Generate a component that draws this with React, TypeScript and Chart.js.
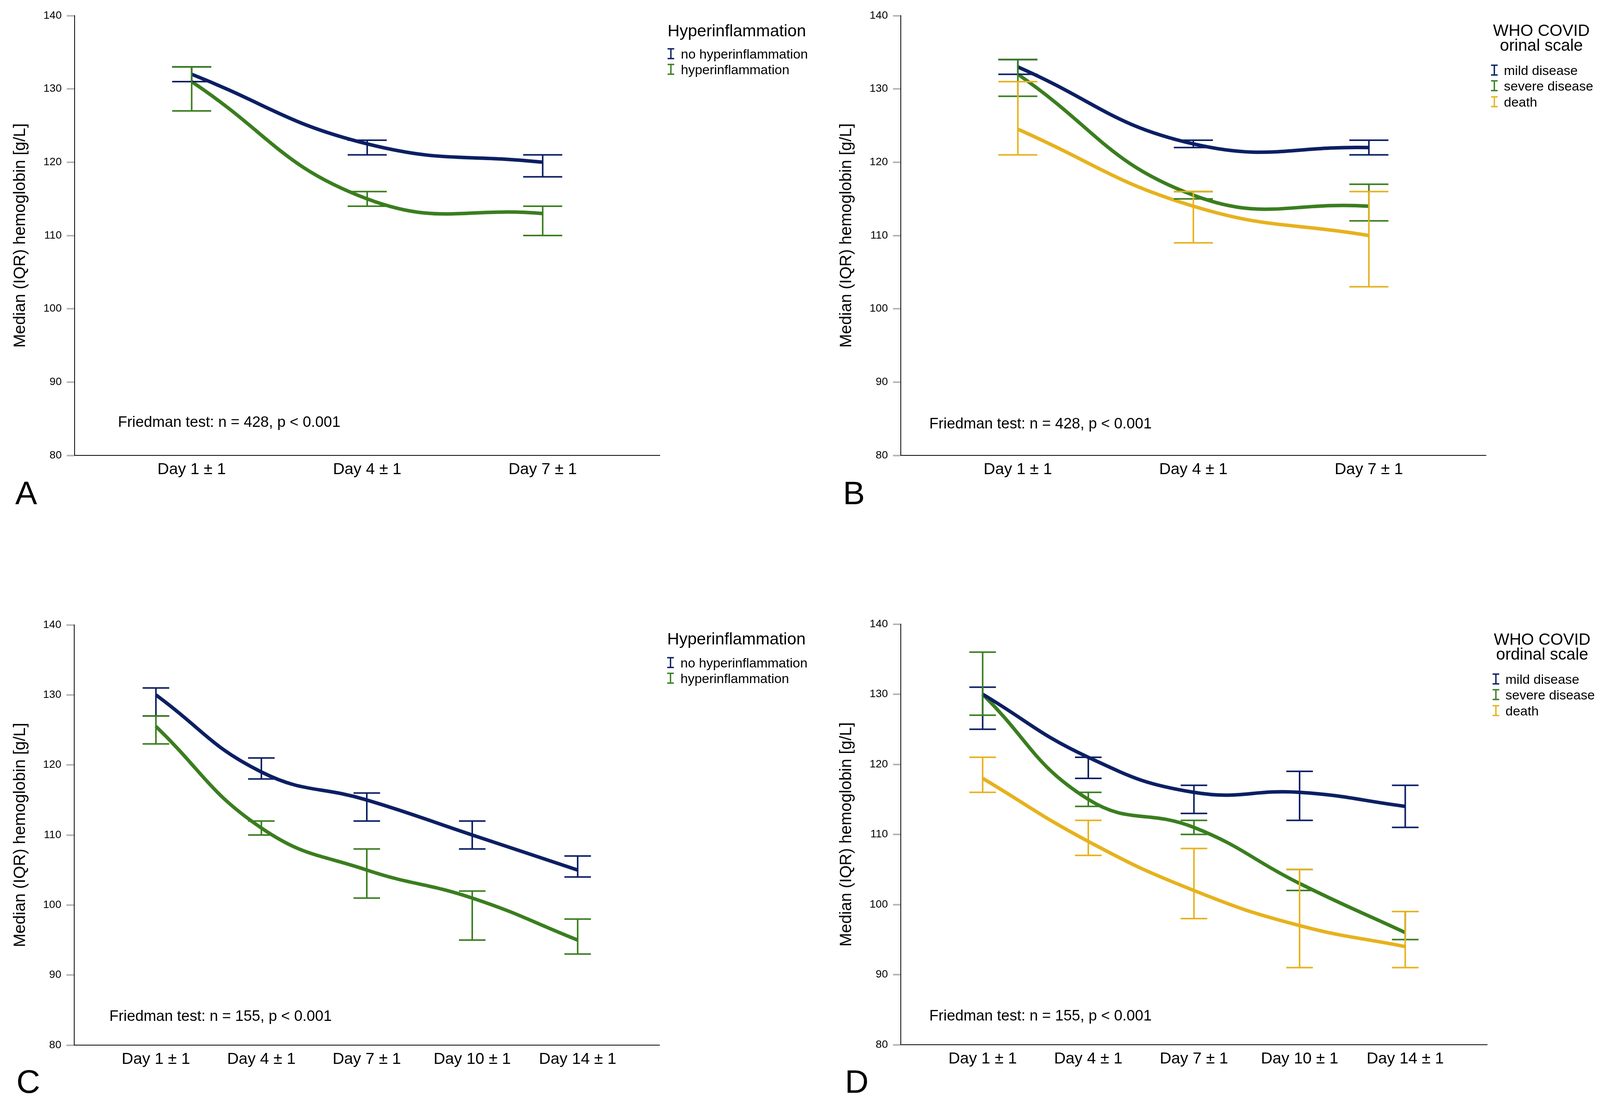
import React, { useEffect, useRef } from "react";
import { Chart, registerables } from "chart.js";

Chart.register(...registerables);

const FONT = "'Liberation Sans', Arial, Helvetica, sans-serif";

// ---------- categories / ticks ----------
const days3 = ["Day 1 ± 1", "Day 4 ± 1", "Day 7 ± 1"];
const days5 = ["Day 1 ± 1", "Day 4 ± 1", "Day 7 ± 1", "Day 10 ± 1", "Day 14 ± 1"];
const yTickValues = [80, 90, 100, 110, 120, 130, 140];

// ---------- text ----------
const yAxisTitle = "Median (IQR) hemoglobin [g/L]";
const hyperTitle = ["Hyperinflammation"];
const hyperNames = ["no hyperinflammation", "hyperinflammation"];
const whoTitleB = ["WHO COVID", "orinal scale"];
const whoTitleD = ["WHO COVID", "ordinal scale"];
const whoNames = ["mild disease", "severe disease", "death"];
const noteAB = "Friedman test: n = 428, p < 0.001";
const noteCD = "Friedman test: n = 155, p < 0.001";
const panelLetters = ["A", "B", "C", "D"];

// ---------- colours ----------
const NAVY = "#0b1f63";
const GREEN = "#3a7e1f";
const YELLOW = "#e6b21e";

// ---------- Panel A ----------
const aNoHyperMedian = [132, 122.5, 120];
const aNoHyperLow = [131, 121, 118];
const aNoHyperHigh = [133, 123, 121];
const aHyperMedian = [131, 115, 113];
const aHyperLow = [127, 114, 110];
const aHyperHigh = [133, 116, 114];

// ---------- Panel B ----------
const bMildMedian = [133, 122.5, 122];
const bMildLow = [132, 122, 121];
const bMildHigh = [134, 123, 123];
const bSevereMedian = [132, 115.5, 114];
const bSevereLow = [129, 115, 112];
const bSevereHigh = [134, 116, 117];
const bDeathMedian = [124.5, 114, 110];
const bDeathLow = [121, 109, 103];
const bDeathHigh = [131, 116, 116];

// ---------- Panel C ----------
const cNoHyperMedian = [130, 119, 115, 110, 105];
const cNoHyperLow = [127, 118, 112, 108, 104];
const cNoHyperHigh = [131, 121, 116, 112, 107];
const cHyperMedian = [125.5, 111, 105, 101, 95];
const cHyperLow = [123, 110, 101, 95, 93];
const cHyperHigh = [127, 112, 108, 102, 98];

// ---------- Panel D ----------
const dMildMedian = [130, 121, 116, 116, 114];
const dMildLow = [125, 118, 113, 112, 111];
const dMildHigh = [131, 121, 117, 119, 117];
const dSevereMedian = [130, 115, 111, 103, 96];
const dSevereLow = [127, 114, 110, 102, 95];
const dSevereHigh = [136, 116, 112, 105, 99];
const dDeathMedian = [118, 109, 102, 97, 94];
const dDeathLow = [116, 107, 98, 91, 91];
const dDeathHigh = [121, 112, 108, 105, 99];

type Series = { name: string; color: string; median: number[]; low: number[]; high: number[] };

type PanelSpec = {
  left: number;
  top: number;
  width: number;
  height: number;
  cats: string[];
  series: Series[];
  pad: { left: number; right: number; top: number };
  yWidth: number;
  xHeight: number;
  xOffset: number;
  capW: number;
  legendTitle: string[];
  titleAlign: "left" | "center";
  titleX: number;
  titleBaselines: number[];
  markerX: number;
  textX: number;
  itemBaselines: number[];
  note: string;
  noteX: number;
  noteY: number;
  letter: string;
  letterX: number;
  letterY: number;
};

const panels: PanelSpec[] = [
  {
    left: 0, top: 0, width: 2200, height: 1418,
    cats: days3,
    series: [
      { name: hyperNames[0], color: NAVY, median: aNoHyperMedian, low: aNoHyperLow, high: aNoHyperHigh },
      { name: hyperNames[1], color: GREEN, median: aHyperMedian, low: aHyperLow, high: aHyperHigh },
    ],
    pad: { left: 0, right: 511, top: 40 }, yWidth: 191, xHeight: 252, xOffset: 0.667, capW: 100,
    legendTitle: hyperTitle, titleAlign: "left", titleX: 1709, titleBaselines: [93],
    markerX: 1709, textX: 1743, itemBaselines: [150, 190],
    note: noteAB, noteX: 302, noteY: 1093,
    letter: panelLetters[0], letterX: 39, letterY: 1291,
  },
  {
    left: 2060, top: 0, width: 2060, height: 1418,
    cats: days3,
    series: [
      { name: whoNames[0], color: NAVY, median: bMildMedian, low: bMildLow, high: bMildHigh },
      { name: whoNames[1], color: GREEN, median: bSevereMedian, low: bSevereLow, high: bSevereHigh },
      { name: whoNames[2], color: YELLOW, median: bDeathMedian, low: bDeathLow, high: bDeathHigh },
    ],
    pad: { left: 55, right: 316, top: 40 }, yWidth: 191, xHeight: 252, xOffset: 0.667, capW: 100,
    legendTitle: whoTitleB, titleAlign: "center", titleX: 1886, titleBaselines: [92, 130],
    markerX: 1757, textX: 1790, itemBaselines: [192, 232, 273],
    note: noteAB, noteX: 319, noteY: 1097,
    letter: panelLetters[1], letterX: 98, letterY: 1291,
  },
  {
    left: 0, top: 1418, width: 2200, height: 1419,
    cats: days5,
    series: [
      { name: hyperNames[0], color: NAVY, median: cNoHyperMedian, low: cNoHyperLow, high: cNoHyperHigh },
      { name: hyperNames[1], color: GREEN, median: cHyperMedian, low: cHyperLow, high: cHyperHigh },
    ],
    pad: { left: 0, right: 512, top: 182 }, yWidth: 190, xHeight: 161, xOffset: 0.775, capW: 68,
    legendTitle: hyperTitle, titleAlign: "left", titleX: 1708, titleBaselines: [232],
    markerX: 1708, textX: 1742, itemBaselines: [291, 331],
    note: noteCD, noteX: 280, noteY: 1196,
    letter: panelLetters[2], letterX: 42, letterY: 1380,
  },
  {
    left: 2060, top: 1418, width: 2060, height: 1419,
    cats: days5,
    series: [
      { name: whoNames[0], color: NAVY, median: dMildMedian, low: dMildLow, high: dMildHigh },
      { name: whoNames[1], color: GREEN, median: dSevereMedian, low: dSevereLow, high: dSevereHigh },
      { name: whoNames[2], color: YELLOW, median: dDeathMedian, low: dDeathLow, high: dDeathHigh },
    ],
    pad: { left: 55, right: 313, top: 180 }, yWidth: 191, xHeight: 162, xOffset: 0.775, capW: 68,
    legendTitle: whoTitleD, titleAlign: "center", titleX: 1888, titleBaselines: [233, 271],
    markerX: 1761, textX: 1794, itemBaselines: [333, 373, 414],
    note: noteCD, noteX: 319, noteY: 1195,
    letter: panelLetters[3], letterX: 103, letterY: 1380,
  },
];

function makePlugins(spec: PanelSpec) {
  const errorBars = {
    id: "errorBars",
    afterDatasetsDraw(chart: any) {
      const { ctx } = chart;
      const x = chart.scales.x;
      const y = chart.scales.y;
      ctx.save();
      ctx.lineWidth = 4;
      ctx.lineCap = "butt";
      spec.series.forEach((s) => {
        ctx.strokeStyle = s.color;
        s.median.forEach((_, i) => {
          const px = x.getPixelForValue(i);
          const pl = y.getPixelForValue(s.low[i]);
          const ph = y.getPixelForValue(s.high[i]);
          const h = spec.capW / 2;
          ctx.beginPath();
          ctx.moveTo(px, pl);
          ctx.lineTo(px, ph);
          ctx.moveTo(px - h, pl);
          ctx.lineTo(px + h, pl);
          ctx.moveTo(px - h, ph);
          ctx.lineTo(px + h, ph);
          ctx.stroke();
        });
      });
      ctx.restore();
    },
  };

  const annotations = {
    id: "annotations",
    afterDraw(chart: any) {
      const { ctx } = chart;
      ctx.save();
      ctx.fillStyle = "#000";
      ctx.textBaseline = "alphabetic";

      // legend title
      ctx.font = `${spec.titleAlign === "left" ? 42.5 : 42}px ${FONT}`;
      ctx.textAlign = spec.titleAlign;
      spec.legendTitle.forEach((t, i) => {
        ctx.fillText(t, spec.titleX, spec.titleBaselines[i]);
      });

      // legend items
      ctx.textAlign = "left";
      ctx.font = `34px ${FONT}`;
      spec.series.forEach((s, i) => {
        const b = spec.itemBaselines[i];
        const mx = spec.markerX;
        ctx.strokeStyle = s.color;
        ctx.lineWidth = 3.5;
        ctx.beginPath();
        ctx.moveTo(mx + 8.5, b - 25);
        ctx.lineTo(mx + 8.5, b);
        ctx.moveTo(mx, b - 25);
        ctx.lineTo(mx + 17, b - 25);
        ctx.moveTo(mx, b);
        ctx.lineTo(mx + 17, b);
        ctx.stroke();
        ctx.fillStyle = "#000";
        ctx.fillText(s.name, spec.textX, b);
      });

      // note
      ctx.font = `38.5px ${FONT}`;
      ctx.fillText(spec.note, spec.noteX, spec.noteY);

      // panel letter
      ctx.font = `84px ${FONT}`;
      ctx.fillText(spec.letter, spec.letterX, spec.letterY);
      ctx.restore();
    },
  };
  return [errorBars, annotations];
}

function Panel({ spec }: { spec: PanelSpec }) {
  const ref = useRef<HTMLCanvasElement | null>(null);
  useEffect(() => {
    if (!ref.current) return;
    const n = spec.cats.length;
    const chart = new Chart(ref.current, {
      type: "line",
      data: {
        datasets: spec.series.map((s) => ({
          label: s.name,
          data: s.median.map((v, i) => ({ x: i, y: v })),
          borderColor: s.color,
          backgroundColor: s.color,
          borderWidth: 9,
          pointRadius: 0,
          pointHoverRadius: 0,
          tension: 0.45,
          fill: false,
          borderCapStyle: "butt",
        })),
      },
      options: {
        animation: false,
        responsive: false,
        devicePixelRatio: 1,
        events: [],
        layout: { padding: { left: spec.pad.left, right: spec.pad.right, top: spec.pad.top, bottom: 0 } },
        plugins: { legend: { display: false }, tooltip: { enabled: false }, title: { display: false } },
        scales: {
          x: {
            type: "linear",
            min: -spec.xOffset,
            max: n - 1 + spec.xOffset,
            afterBuildTicks: (sc: any) => {
              sc.ticks = spec.cats.map((_, i) => ({ value: i }));
            },
            afterFit: (sc: any) => {
              sc.height = spec.xHeight;
            },
            ticks: {
              callback: (_v: any, i: number) => spec.cats[i],
              autoSkip: false,
              maxRotation: 0,
              minRotation: 0,
              padding: 12,
              color: "#000",
              font: { family: FONT, size: 41 },
            },
            grid: { display: true, drawOnChartArea: false, drawTicks: false },
            border: { display: true, color: "#000", width: 2 },
          },
          y: {
            type: "linear",
            min: 80,
            max: 140,
            afterBuildTicks: (sc: any) => {
              sc.ticks = yTickValues.map((v) => ({ value: v }));
            },
            afterFit: (sc: any) => {
              sc.width = spec.yWidth;
            },
            ticks: { padding: 13, color: "#000", font: { family: FONT, size: 28 } },
            grid: {
              display: true,
              drawOnChartArea: false,
              drawTicks: true,
              tickLength: 20,
              tickColor: "#b3b3b3",
              tickWidth: 4,
              lineWidth: 1,
            },
            border: { display: true, color: "#000", width: 2 },
            title: {
              display: true,
              text: yAxisTitle,
              color: "#000",
              font: { family: FONT, size: 42 },
              padding: { top: 27, bottom: 0 },
            },
          },
        },
      },
      plugins: makePlugins(spec),
    } as any);
    return () => chart.destroy();
  }, [spec]);

  return (
    <canvas
      ref={ref}
      width={spec.width}
      height={spec.height}
      style={{ position: "absolute", left: spec.left, top: spec.top, width: spec.width, height: spec.height }}
    />
  );
}

export default function App() {
  return (
    <div style={{ position: "absolute", left: 0, top: 0, width: 4120, height: 2837, background: "#fff", overflow: "hidden" }}>
      {panels.map((p, i) => (
        <Panel key={i} spec={p} />
      ))}
    </div>
  );
}
